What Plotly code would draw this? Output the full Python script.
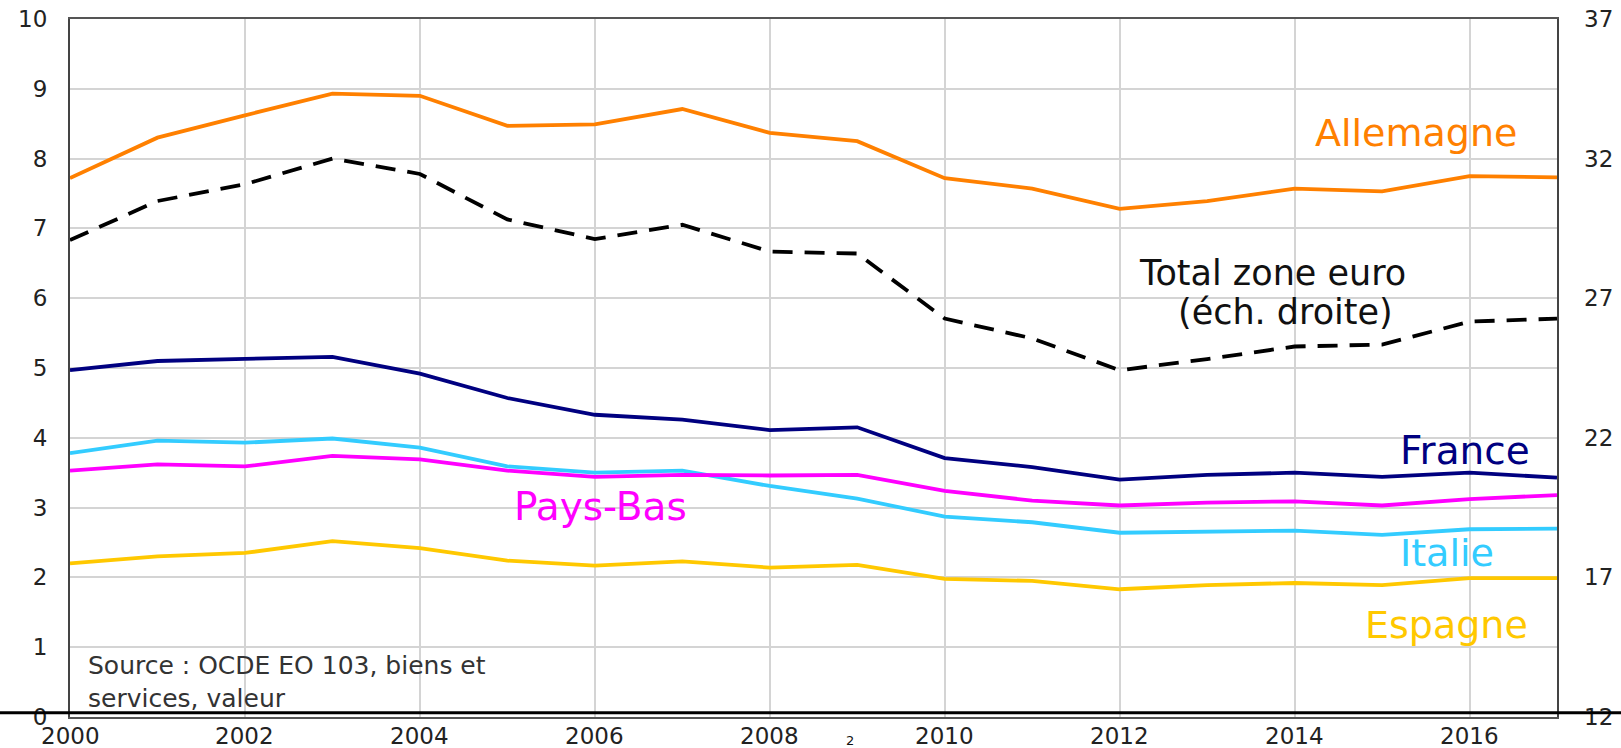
import plotly.graph_objects as go

years = list(range(2000, 2018))

allemagne = [7.72, 8.30, 8.62, 8.93, 8.90, 8.47, 8.49, 8.71, 8.37, 8.25,
             7.72, 7.57, 7.28, 7.39, 7.57, 7.53, 7.75, 7.73]
total_zone_euro = [29.08, 30.48, 31.08, 32.00, 31.45, 29.82, 29.12, 29.63, 28.67, 28.60,
                   26.27, 25.56, 24.42, 24.82, 25.27, 25.34, 26.16, 26.27]
france = [4.97, 5.10, 5.13, 5.16, 4.92, 4.57, 4.33, 4.26, 4.11, 4.15,
          3.71, 3.58, 3.40, 3.47, 3.50, 3.44, 3.50, 3.43]
italie = [3.78, 3.96, 3.93, 3.99, 3.86, 3.59, 3.50, 3.53, 3.31, 3.13,
          2.87, 2.79, 2.64, 2.66, 2.67, 2.61, 2.69, 2.70]
pays_bas = [3.53, 3.62, 3.59, 3.74, 3.69, 3.53, 3.44, 3.47, 3.46, 3.47,
            3.24, 3.10, 3.03, 3.07, 3.09, 3.03, 3.12, 3.18]
espagne = [2.20, 2.30, 2.35, 2.52, 2.42, 2.24, 2.17, 2.23, 2.14, 2.18,
           1.98, 1.95, 1.83, 1.89, 1.92, 1.89, 1.99, 1.99]

x_ticks = list(range(2000, 2017, 2))
left_ticks = list(range(0, 11))
right_ticks = [12, 17, 22, 27, 32, 37]

C_ALL = "#FF8000"
C_FRA = "#000080"
C_ITA = "#33CCFF"
C_PB = "#FF00FF"
C_ESP = "#FFC800"

FONT = "DejaVu Sans"

fig = go.Figure()
fig.add_trace(go.Scatter(x=years, y=allemagne, mode="lines", line=dict(color=C_ALL, width=3.8), name="Allemagne"))
fig.add_trace(go.Scatter(x=years, y=france, mode="lines", line=dict(color=C_FRA, width=3.8), name="France"))
fig.add_trace(go.Scatter(x=years, y=italie, mode="lines", line=dict(color=C_ITA, width=3.8), name="Italie"))
fig.add_trace(go.Scatter(x=years, y=pays_bas, mode="lines", line=dict(color=C_PB, width=3.8), name="Pays-Bas"))
fig.add_trace(go.Scatter(x=years, y=espagne, mode="lines", line=dict(color=C_ESP, width=3.8), name="Espagne"))
fig.add_trace(go.Scatter(x=years, y=total_zone_euro, mode="lines", yaxis="y2",
                         line=dict(color="black", width=3.8, dash="20px,12px"), name="Total zone euro"))

fig.update_layout(
    width=1621, height=748,
    margin=dict(l=70, r=63.5, t=18.5, b=31, autoexpand=False),
    paper_bgcolor="white", plot_bgcolor="white",
    showlegend=False,
    font=dict(family=FONT, size=24, color="#222222"),
    xaxis=dict(range=[2000, 2017], tickvals=x_ticks, showgrid=True, gridcolor="#D4D4D4", gridwidth=1.5,
               zeroline=False, showline=True, mirror=True, linecolor="#555555", linewidth=2,
               ticks="", showticklabels=False, automargin=False),
    yaxis=dict(range=[0, 10], tickvals=left_ticks, showgrid=True, gridcolor="#D4D4D4", gridwidth=1.5,
               zeroline=False, showline=True, mirror=True, linecolor="#444444", linewidth=2,
               ticks="", ticklabelstandoff=16, automargin=False,
               tickfont=dict(family=FONT, size=23, color="#222222")),
    yaxis2=dict(range=[12, 37], tickvals=right_ticks, overlaying="y", side="right", showgrid=False,
                zeroline=False, showline=False, ticks="", ticklabelstandoff=26, automargin=False,
                tickfont=dict(family=FONT, size=23, color="#222222")),
)

# x-axis tick labels placed from the tick list
for yr in x_ticks:
    fig.add_annotation(text=str(yr), x=yr, xref="x", yref="paper", y=-(736.5 - 717) / 698.5,
                       xanchor="center", yanchor="middle", showarrow=False,
                       font=dict(family=FONT, size=23, color="#222222"))

# black base line across whole width
fig.add_shape(type="line", xref="paper", yref="y", x0=-0.05, x1=1.05, y0=0.06, y1=0.06,
              line=dict(color="black", width=3), layer="above")

def lab(text, x, y, color, size=38):
    fig.add_annotation(text=text, x=x, y=y, xref="x", yref="y", showarrow=False,
                       font=dict(family=FONT, size=size, color=color), xanchor="center", yanchor="middle")

lab("Allemagne", 2015.39, 8.37, C_ALL)
lab("France", 2015.95, 3.82, C_FRA, size=39)
lab("Italie", 2015.74, 2.35, C_ITA)
lab("Espagne", 2015.74, 1.32, C_ESP)
lab("Pays-Bas", 2006.06, 3.01, C_PB, size=39)
lab("Total zone euro", 2013.75, 6.36, "#111111", size=35)
lab("(éch. droite)", 2013.90, 5.80, "#111111", size=35)

fig.add_annotation(text="Source : OCDE EO 103, biens et", xref="paper", yref="paper",
                   x=16 / 1487.5, y=0.0744, xanchor="left", yanchor="middle", align="left", showarrow=False,
                   font=dict(family=FONT, size=25, color="#333333"))
fig.add_annotation(text="services, valeur", xref="paper", yref="paper",
                   x=16 / 1487.5, y=0.0272, xanchor="left", yanchor="middle", align="left", showarrow=False,
                   font=dict(family=FONT, size=25, color="#333333"))

fig.add_annotation(text="2", xref="paper", yref="paper", x=(850 - 70) / 1487.5, y=-(741 - 717) / 698.5,
                   xanchor="center", yanchor="middle", showarrow=False,
                   font=dict(family=FONT, size=13, color="#111111"))

fig.write_html("out.html", config={"displayModeBar": False},
               post_script="document.body.style.margin='0';document.body.style.padding='0';")
